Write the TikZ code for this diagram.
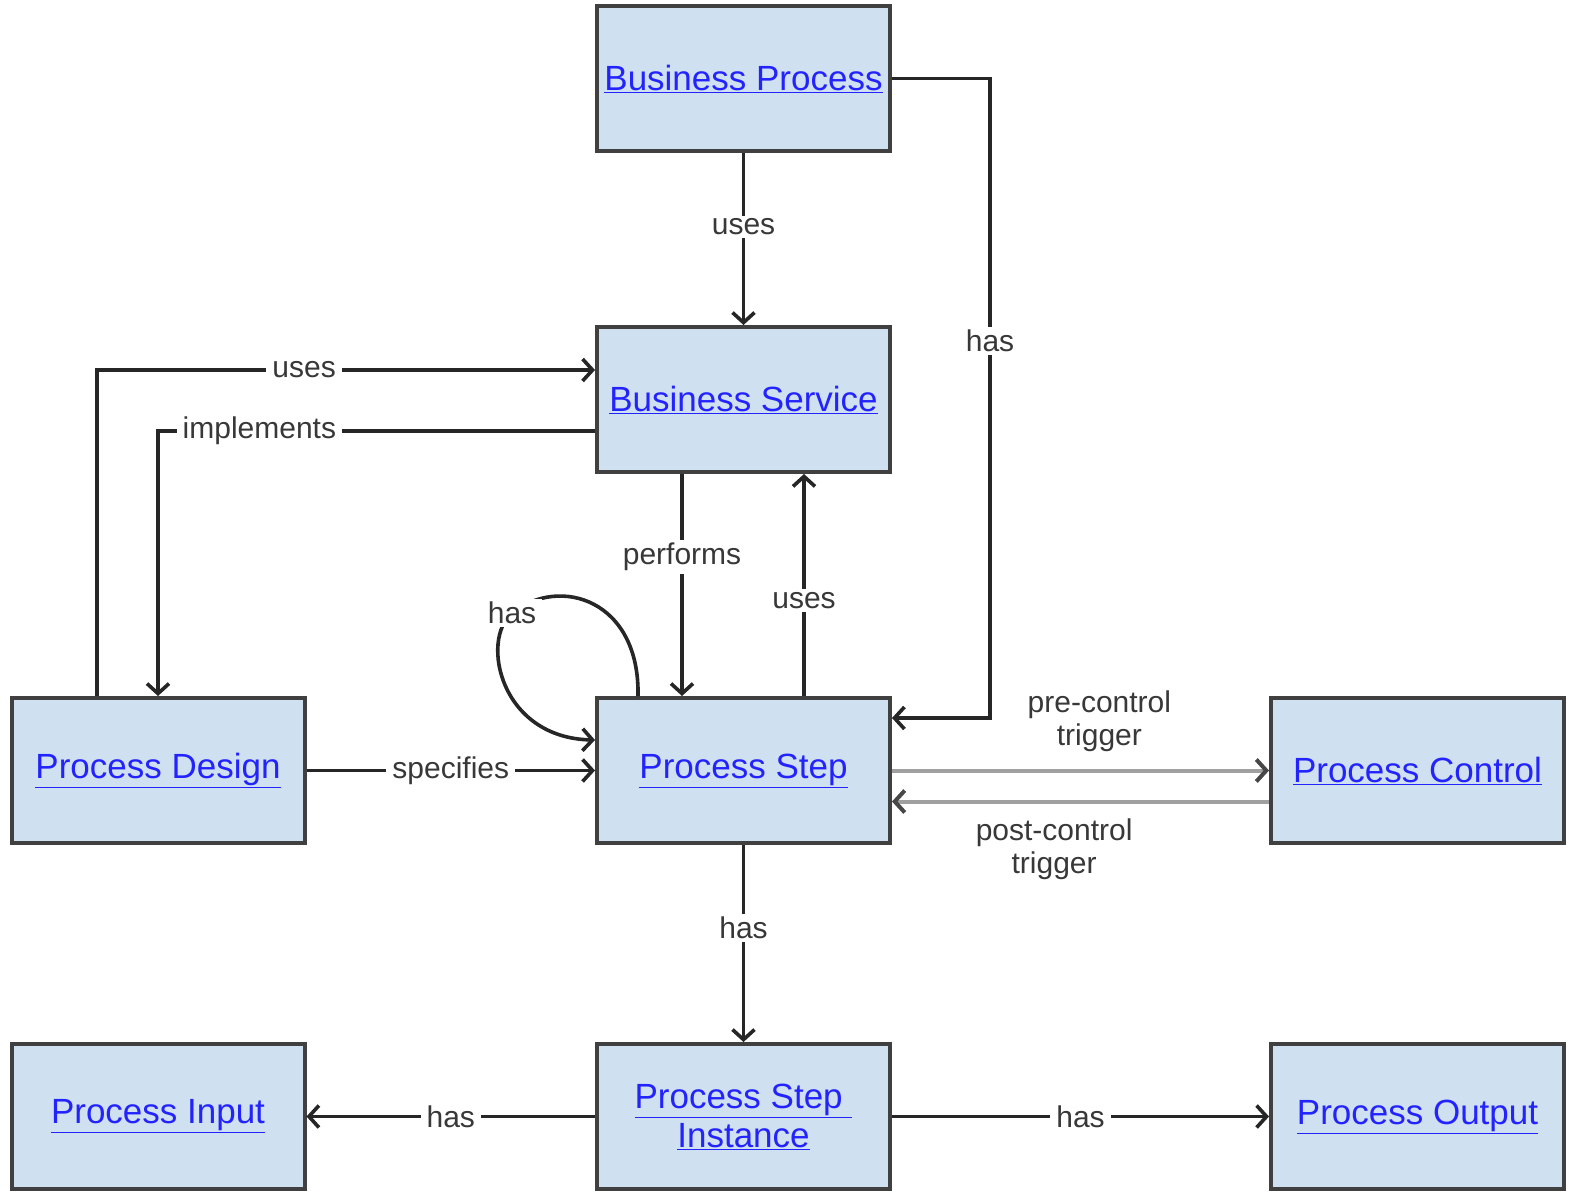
\documentclass[tikz,border=0pt]{standalone}
\usepackage{fontspec}
\setmainfont{Liberation Sans}
\usetikzlibrary{arrows.meta,calc}
\definecolor{boxfill}{HTML}{CFE0F1}
\definecolor{boxline}{HTML}{404040}
\definecolor{linkblue}{HTML}{2323FF}
\definecolor{lblgray}{HTML}{383838}
\definecolor{conn}{HTML}{262626}
\definecolor{ctrl}{HTML}{A0A0A0}
\begin{document}
\begin{tikzpicture}[x=1pt,y=-1pt,
 entity/.style={draw=boxline, fill=boxfill, line width=4pt, minimum width=293pt, minimum height=145pt, inner sep=0pt, align=center, text=linkblue, font=\fontsize{35}{39}\selectfont},
 rel/.style={draw=conn, line width=3.6pt, -{Straight Barb[length=10pt,width=22pt]}},
 ctl/.style={draw=ctrl, line width=4pt, -{Straight Barb[length=10pt,width=22pt,color=conn!85]}},
 lbl/.style={fill=white, text=lblgray, font=\fontsize{30}{33}\selectfont, inner xsep=6pt, inner ysep=3pt},
 note/.style={text=lblgray, font=\fontsize{30}{33}\selectfont, align=center, inner sep=0pt}]
\useasboundingbox[fill=white] (0,0) rectangle (1570,1196);

\node[entity] (bp)  at (743.5,78.5)   {\raisebox{-2pt}{\underline{Business Process}}};
\node[entity] (bs)  at (743.5,399.5)  {\raisebox{-2pt}{\underline{Business Service}}};
\node[entity] (ps)  at (743.5,770.5)  {\raisebox{-2pt}{\underline{Process Step}}};
\node[entity] (pd)  at (158,770.5)    {\raisebox{-2pt}{\underline{Process Design}}};
\node[entity] (pc)  at (1417.5,770.5) {\raisebox{-2pt}{\underline{Process Control}}};
\node[entity] (pi)  at (158,1116.5)   {\raisebox{-2pt}{\underline{Process Input}}};
\node[entity] (psi) at (743.5,1116.5) {\underline{Process Step\ }\\\underline{Instance}};
\node[entity] (po)  at (1417.5,1116.5){\raisebox{-2pt}{\underline{Process Output}}};

% Business Process -> Business Service
\draw[rel] (bp.south) -- node[lbl,pos=0.43]{uses} (bs.north);
% Business Process -> Process Step (has)
\draw[rel] (bp.east) -- ++(98,0) |- node[lbl,pos=0.205]{has} ([yshift=52.5pt]ps.east);
% Process Design -> Business Service (uses)
\draw[rel] ([xshift=-61pt]pd.north) |- node[lbl,pos=0.708]{uses} ([yshift=29.5pt]bs.west);
% Business Service -> Process Design (implements)
\draw[rel] ([yshift=-31.5pt]bs.west) -| node[lbl,pos=0.384]{implements} (pd.north);
% Business Service -> Process Step (performs)
\draw[rel] ([xshift=-61.5pt]bs.south) -- node[lbl,pos=0.374]{performs} ([xshift=-61.5pt]ps.north);
% Process Step -> Business Service (uses)
\draw[rel] ([xshift=60.5pt]ps.north) -- node[lbl,pos=0.43]{uses} ([xshift=60.5pt]bs.south);
% self loop
\draw[rel] ([xshift=-105.5pt]ps.north) .. controls (640,600) and (560,575) .. (512,613)
  node[lbl]{has} .. controls (480,640) and (500,738) .. ([yshift=30.5pt]ps.west);
% Process Design -> Process Step
\draw[rel] (pd.east) -- node[lbl,pos=0.5]{specifies} (ps.west);
% control triggers
\draw[ctl] (ps.east) -- node[note,pos=0.55,yshift=49pt]{pre-control\\trigger} (pc.west);
\draw[ctl] ([yshift=-31pt]pc.west) -- node[note,pos=0.57,yshift=-48pt]{post-control\\trigger} ([yshift=-31pt]ps.east);
% Process Step -> Instance
\draw[rel] (ps.south) -- node[lbl,pos=0.42]{has} (psi.north);
% Instance -> Input / Output
\draw[rel] (psi.west) -- node[lbl,pos=0.5]{has} (pi.east);
\draw[rel] (psi.east) -- node[lbl,pos=0.5]{has} (po.west);
\end{tikzpicture}
\end{document}
